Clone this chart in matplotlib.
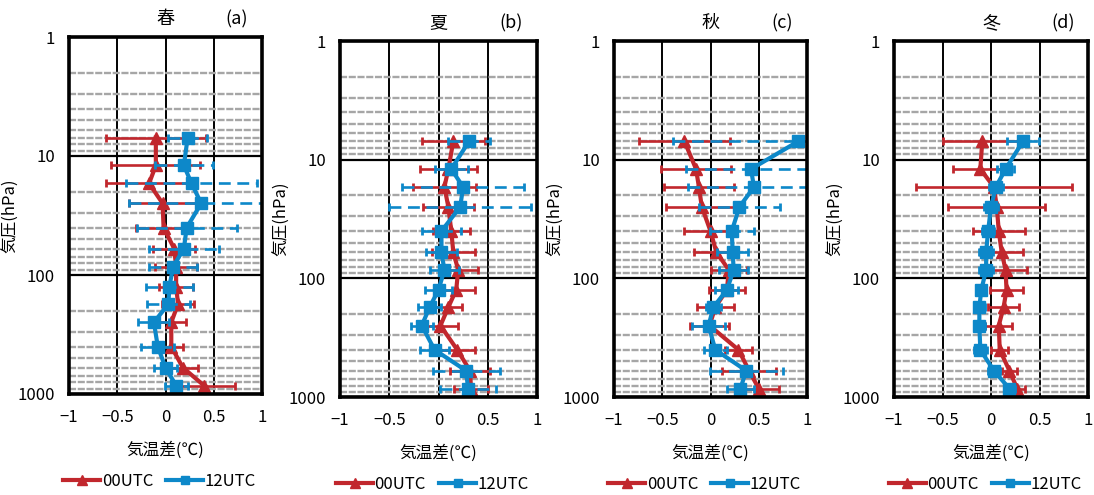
import numpy as np
import matplotlib
matplotlib.use("Agg")
import matplotlib.pyplot as plt
from matplotlib.lines import Line2D
from matplotlib.ticker import FixedLocator, NullFormatter

plt.rcParams['font.family'] = ['Noto Sans CJK JP', 'DejaVu Sans']

# pressure levels (hPa)
pres = [7, 12, 17, 25, 40, 60, 85, 125, 175, 250, 400, 600, 850]

# 春
spr_00 = [-0.10, -0.10, -0.17, -0.03, -0.02, 0.09, 0.11, 0.11, 0.13, 0.06, 0.06, 0.18, 0.40]
spr_00_err = [0.52, 0.46, 0.45, 0.35, 0.29, 0.22, 0.22, 0.18, 0.17, 0.15, 0.12, 0.16, 0.32]
spr_12 = [0.23, 0.19, 0.27, 0.37, 0.22, 0.19, 0.08, 0.04, 0.03, -0.12, -0.08, 0.00, 0.11]
spr_12_err = [0.20, 0.30, 0.68, 0.75, 0.52, 0.36, 0.25, 0.24, 0.22, 0.16, 0.17, 0.12, 0.12]

# 夏
sum_00 = [0.15, 0.10, 0.06, 0.10, 0.13, 0.15, 0.20, 0.18, 0.10, 0.02, 0.19, 0.32, 0.33]
sum_00_err = [0.32, 0.29, 0.32, 0.26, 0.19, 0.22, 0.20, 0.19, 0.14, 0.18, 0.18, 0.20, 0.17]
sum_12 = [0.31, 0.13, 0.25, 0.22, 0.03, 0.03, 0.06, 0.00, -0.09, -0.17, -0.04, 0.28, 0.30]
sum_12_err = [0.21, 0.17, 0.62, 0.72, 0.20, 0.16, 0.15, 0.14, 0.12, 0.11, 0.15, 0.34, 0.28]

# 秋
aut_00 = [-0.27, -0.15, -0.12, -0.09, 0.00, 0.06, 0.19, 0.17, 0.05, -0.01, 0.29, 0.40, 0.50]
aut_00_err = [0.47, 0.36, 0.36, 0.37, 0.27, 0.23, 0.19, 0.19, 0.19, 0.20, 0.14, 0.28, 0.21]
aut_12 = [0.91, 0.42, 0.45, 0.30, 0.22, 0.23, 0.24, 0.17, 0.03, -0.02, 0.05, 0.37, 0.31]
aut_12_err = [1.30, 0.67, 0.68, 0.42, 0.23, 0.16, 0.15, 0.12, 0.08, 0.17, 0.12, 0.38, 0.14]

# 冬
win_00 = [-0.09, -0.11, 0.03, 0.06, 0.08, 0.11, 0.15, 0.16, 0.13, 0.08, 0.09, 0.19, 0.27]
win_00_err = [0.41, 0.28, 0.80, 0.50, 0.27, 0.22, 0.22, 0.17, 0.16, 0.14, 0.09, 0.08, 0.08]
win_12 = [0.33, 0.15, 0.05, 0.00, -0.03, -0.05, -0.05, -0.10, -0.12, -0.12, -0.11, 0.03, 0.19]
win_12_err = [0.16, 0.09, 0.07, 0.07, 0.06, 0.07, 0.07, 0.05, 0.06, 0.06, 0.07, 0.06, 0.06]

seasons = ["春", "夏", "秋", "冬"]
tags = ["(a)", "(b)", "(c)", "(d)"]
data = [(spr_00, spr_00_err, spr_12, spr_12_err),
        (sum_00, sum_00_err, sum_12, sum_12_err),
        (aut_00, aut_00_err, aut_12, aut_12_err),
        (win_00, win_00_err, win_12, win_12_err)]

xticks = [-1, -0.5, 0, 0.5, 1]
xticklabels = ["\u22121", "\u22120.5", "0", "0.5", "1"]
yticks = [1, 10, 100, 1000]

red = "#C1272D"
blue = "#0D88C9"
fsz = 12

W, H = 1094, 495
# pixel boxes: left, right, top, bottom
boxes = [(69, 262, 37, 394), (340, 537, 41, 397),
         (614, 807, 41, 397), (894, 1088, 41, 397)]

fig = plt.figure(figsize=(W/100, H/100), dpi=100)

for i, (l, r, t, b) in enumerate(boxes):
    ax = fig.add_axes([l/W, 1-b/H, (r-l)/W, (b-t)/H])
    d00, e00, d12, e12 = data[i]

    ax.errorbar(d00, pres, xerr=e00, color=red, lw=3, marker="^", ms=9,
                elinewidth=1.9, capsize=3, capthick=2, zorder=3)
    eb = ax.errorbar(d12, pres, xerr=e12, color=blue, lw=3, marker="s", ms=8,
                     elinewidth=1.9, capsize=3, capthick=2, zorder=4)
    eb[2][0].set_linestyle((0, (4.5, 2.5)))

    ax.set_yscale("log")
    ax.set_ylim(1000, 1)
    ax.set_xlim(-1, 1)
    ax.yaxis.set_major_locator(FixedLocator(yticks))
    ax.set_yticklabels([str(v) for v in yticks])
    minor = [m*10**k for k in range(0, 3) for m in range(2, 10)]
    ax.yaxis.set_minor_locator(FixedLocator(minor))
    ax.yaxis.set_minor_formatter(NullFormatter())
    ax.set_xticks(xticks)
    ax.set_xticklabels(xticklabels)

    ax.grid(True, which="minor", axis="y", color="#a6a6a6", lw=1.7,
            linestyle=(0, (3, 0.7)), zorder=0)
    ax.grid(True, which="major", axis="y", color="black", lw=1.6, zorder=1)
    ax.grid(True, which="major", axis="x", color="black", lw=1.4, zorder=1)
    ax.set_axisbelow(True)

    ax.tick_params(which="both", length=0, labelsize=fsz)
    ax.tick_params(axis="y", pad=10)
    ax.tick_params(axis="x", pad=11)
    for s in ax.spines.values():
        s.set_linewidth(2.6)
        s.set_zorder(5)

    ax.set_xlabel("気温差(℃)", fontsize=fsz, labelpad=11)
    ax.set_ylabel("気圧(hPa)", fontsize=fsz)
    ax.yaxis.set_label_coords(-50/(r-l), 0.5)
    ax.text(0.5, 1.05, seasons[i], transform=ax.transAxes, ha="center",
            va="center", fontsize=13)
    ax.text(0.87, 1.05, tags[i], transform=ax.transAxes, ha="center",
            va="center", fontsize=13)

    handles = [Line2D([], [], color=red, lw=3, marker="^", ms=7),
               Line2D([], [], color=blue, lw=3, marker="s", ms=6)]
    ax.legend(handles, ["00UTC", "12UTC"], loc="center",
              bbox_to_anchor=(0.47, -0.245), ncol=2, frameon=False,
              fontsize=fsz, handlelength=2.2, handletextpad=0.1,
              columnspacing=0.8, borderaxespad=0)

fig.savefig("out.png", dpi=100)
